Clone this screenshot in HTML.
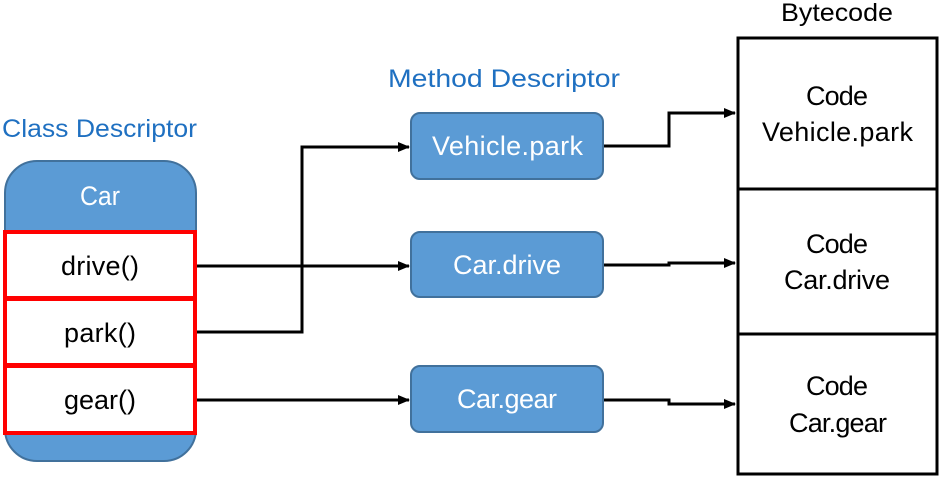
<!DOCTYPE html>
<html><head><meta charset="utf-8"><style>html,body{margin:0;padding:0;background:#fff}</style></head>
<body>
<svg width="944" height="482" viewBox="0 0 944 482" xmlns="http://www.w3.org/2000/svg" font-family="Liberation Sans, sans-serif">
<defs><marker id="a" markerWidth="12" markerHeight="10" refX="11" refY="5" orient="auto" markerUnits="userSpaceOnUse"><path d="M0,0 L12,5 L0,10 z" fill="#000"/></marker></defs>
<text x="2" y="137" font-size="25" fill="#1f70c1" textLength="195" lengthAdjust="spacingAndGlyphs">Class Descriptor</text>
<text x="388" y="87" font-size="25" fill="#1f70c1" textLength="232" lengthAdjust="spacingAndGlyphs">Method Descriptor</text>
<text x="781" y="21" font-size="25" fill="#000" textLength="112" lengthAdjust="spacingAndGlyphs">Bytecode</text>
<rect x="5" y="161" width="191" height="300" rx="32" fill="#5b9bd5" stroke="#41719c" stroke-width="2"/>
<text x="80" y="205" font-size="27" fill="#fff" textLength="40" lengthAdjust="spacingAndGlyphs">Car</text>
<rect x="5" y="232" width="190" height="66" fill="#fff" stroke="#f00" stroke-width="4"/>
<rect x="5" y="299" width="190" height="66" fill="#fff" stroke="#f00" stroke-width="4"/>
<rect x="5" y="366" width="190" height="67" fill="#fff" stroke="#f00" stroke-width="4"/>
<g font-size="27" lengthAdjust="spacingAndGlyphs">
<text x="61" y="275" textLength="78">drive()</text>
<text x="64" y="342" textLength="72">park()</text>
<text x="64" y="409" textLength="72">gear()</text>
</g>
<g fill="#5b9bd5" stroke="#41719c" stroke-width="2">
<rect x="411" y="113" width="192" height="66" rx="9"/>
<rect x="411" y="232" width="192" height="65" rx="9"/>
<rect x="411" y="366" width="192" height="66" rx="9"/>
</g>
<g font-size="27" fill="#fff" lengthAdjust="spacingAndGlyphs">
<text x="432" y="155" textLength="151">Vehicle.park</text>
<text x="453" y="274" textLength="108">Car.drive</text>
<text x="457" y="408" textLength="100">Car.gear</text>
</g>
<rect x="738" y="38" width="199" height="436" fill="#fff" stroke="#000" stroke-width="3"/>
<line x1="738" y1="189" x2="937" y2="189" stroke="#000" stroke-width="3"/>
<line x1="738" y1="334" x2="937" y2="334" stroke="#000" stroke-width="3"/>
<g font-size="27" lengthAdjust="spacingAndGlyphs">
<text x="806" y="105" textLength="62">Code</text><text x="762" y="141" textLength="151">Vehicle.park</text>
<text x="806" y="253" textLength="62">Code</text><text x="784" y="289" textLength="106">Car.drive</text>
<text x="806" y="395" textLength="62">Code</text><text x="789" y="432" textLength="98">Car.gear</text>
</g>
<g fill="none" stroke="#000" stroke-width="3">
<path d="M197,266 H409" marker-end="url(#a)"/>
<path d="M197,332 H302 V147 H409" marker-end="url(#a)"/>
<path d="M197,400 H409" marker-end="url(#a)"/>
<path d="M604,146 H669 V113 H735" marker-end="url(#a)"/>
<path d="M604,265 H669 V263 H735" marker-end="url(#a)"/>
<path d="M604,400 H669 V404 H735" marker-end="url(#a)"/>
</g>
</svg>
</body></html>
